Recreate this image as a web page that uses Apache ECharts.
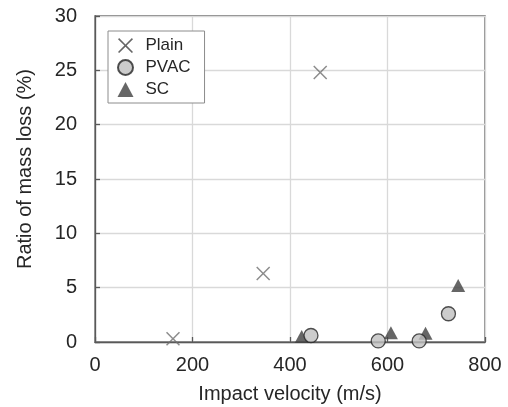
<!DOCTYPE html>
<html>
<head>
<meta charset="utf-8">
<script src="https://cdn.jsdelivr.net/npm/echarts@6/dist/echarts.min.js"></script>
<style>
  html, body { margin: 0; padding: 0; background: #fff; }
  #chart { width: 508px; height: 407px; }
</style>
</head>
<body>
<div id="chart"></div>
<script>
// velocity (m/s) / ratio of mass loss (%)
var plainX = [160, 345, 462];
var plainY = [0.3, 6.3, 24.8];
var pvacX = [443, 581, 665, 725];
var pvacY = [0.6, 0.1, 0.1, 2.6];
var scX = [424, 607, 678, 745];
var scY = [0.5, 0.85, 0.8, 5.2];
var xTicks = [0, 200, 400, 600, 800];
var yTicks = [0, 5, 10, 15, 20, 25, 30];

function pairs(xs, ys) {
  return xs.map(function (x, i) { return [x, ys[i]]; });
}

// thin cross drawn as filled polygon
var crossPath = 'path://M0,1.5L1.5,0L10,8.5L18.5,0L20,1.5L11.5,10L20,18.5L18.5,20L10,11.5L1.5,20L0,18.5L8.5,10Z';
var txt = '#262626';
var font = 'Liberation Sans';

var myChart = echarts.init(document.getElementById('chart'));

var option = {
  animation: false,
  textStyle: { fontFamily: font },
  grid: {
    left: 95, right: 23, top: 16, bottom: 65,
    outerBoundsMode: 'none', containLabel: false,
    show: true, borderColor: '#595959', borderWidth: 1.3
  },
  legend: {
    orient: 'vertical',
    left: 108, top: 31,
    backgroundColor: '#fff',
    borderColor: '#8c8c8c', borderWidth: 1,
    padding: [6, 14, 5, 9],
    itemWidth: 16, itemHeight: 15, itemGap: 5,
    textStyle: { fontSize: 17, color: txt, fontFamily: font, padding: [0, 0, 0, 7] },
    data: [
      { name: 'Plain', icon: crossPath, itemStyle: { color: '#404040' } },
      { name: 'PVAC', icon: 'circle' },
      { name: 'SC', icon: 'triangle' }
    ]
  },
  xAxis: {
    type: 'value',
    min: xTicks[0], max: xTicks[xTicks.length - 1], interval: 200,
    name: 'Impact velocity (m/s)',
    nameLocation: 'middle', nameGap: 42,
    nameTextStyle: { fontSize: 20, color: txt, fontFamily: font },
    axisLine: { show: true, lineStyle: { color: '#595959', width: 1.3 } },
    axisTick: { show: true, inside: true, length: 5, lineStyle: { color: '#595959', width: 1.3 } },
    axisLabel: { fontSize: 20, color: txt, margin: 13, fontFamily: font },
    splitLine: { show: true, lineStyle: { color: '#d9d9d9', width: 1.3 } }
  },
  yAxis: {
    type: 'value',
    min: yTicks[0], max: yTicks[yTicks.length - 1], interval: 5,
    name: 'Ratio of mass loss (%)',
    nameLocation: 'middle', nameGap: 60, nameRotate: 90,
    nameTextStyle: { fontSize: 20, color: txt, fontFamily: font, padding: [0, 0, 0, 20] },
    axisLine: { show: true, lineStyle: { color: '#595959', width: 1.3 } },
    axisTick: { show: true, inside: true, length: 5, lineStyle: { color: '#595959', width: 1.3 } },
    axisLabel: { fontSize: 20, color: txt, margin: 18, fontFamily: font },
    splitLine: { show: true, lineStyle: { color: '#d9d9d9', width: 1.3 } }
  },
  series: [
    {
      name: 'Plain', type: 'scatter', clip: false, z: 3,
      symbol: crossPath, symbolSize: 14,
      itemStyle: { color: '#6f6f6f' },
      data: pairs(plainX, plainY)
    },
    {
      name: 'PVAC', type: 'scatter', clip: false, z: 4,
      symbol: 'circle', symbolSize: 14,
      itemStyle: { color: '#bfbfbf', borderColor: '#262626', borderWidth: 1.3 },
      data: pairs(pvacX, pvacY)
    },
    {
      name: 'SC', type: 'scatter', clip: false, z: 2,
      symbol: 'triangle', symbolSize: [14, 13],
      itemStyle: { color: '#404040' },
      data: pairs(scX, scY)
    }
  ]
};
myChart.setOption(option);
</script>
</body>
</html>
